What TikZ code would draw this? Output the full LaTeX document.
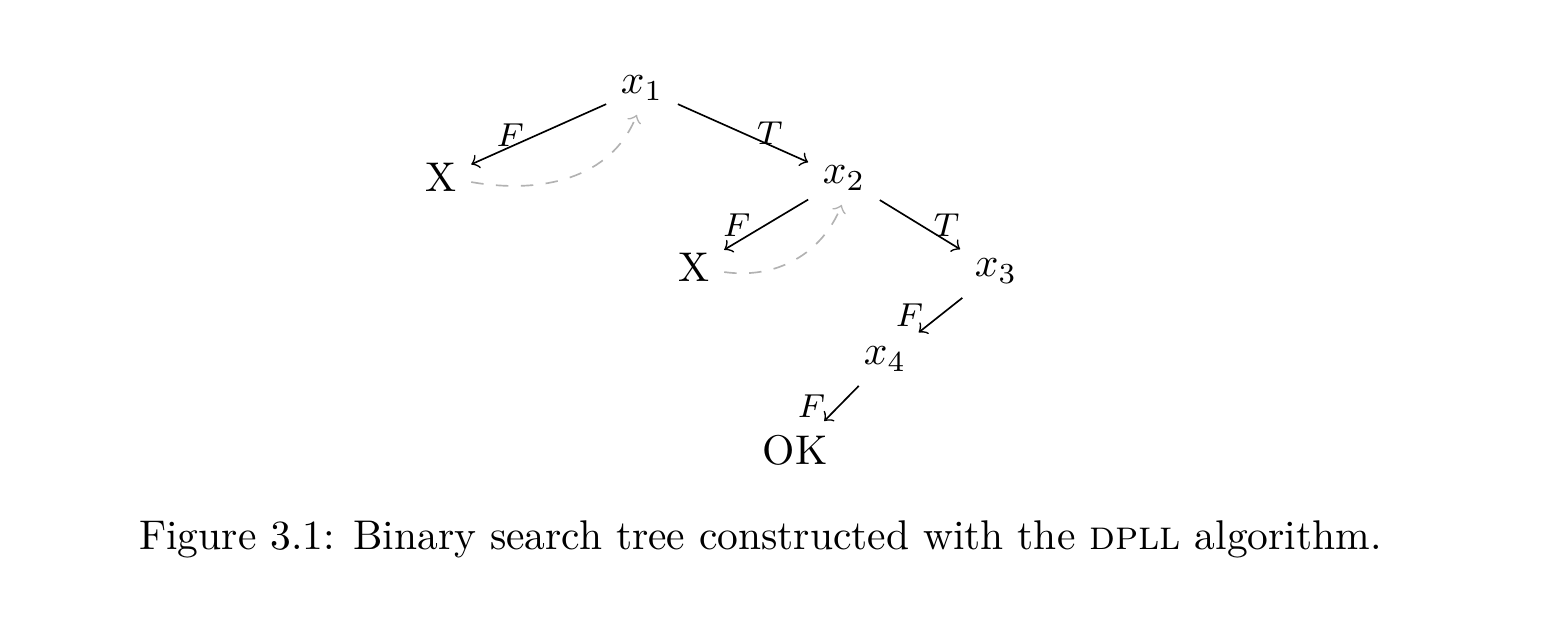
\documentclass[tikz,border=0pt]{standalone}
\begin{document}
\begin{tikzpicture}[x=0.2409pt,y=-0.2409pt,
  lab/.style={font=\footnotesize, inner sep=0pt},
  tree/.style={->, >=to, line width=0.4pt},
  back/.style={->, >=to, dashed, gray!60}]
\useasboundingbox (0,0) rectangle (1542,618);
\node[anchor=base] (x1) at (642,94) {$x_1$};
\node[anchor=base] (xl) at (441,192) {X};
\node[anchor=base] (x2) at (844,184) {$x_2$};
\node[anchor=base] (xm) at (694,282) {X};
\node[anchor=base] (x3) at (996,277) {$x_3$};
\node[anchor=base] (x4) at (885,365) {$x_4$};
\node[anchor=base] (ok) at (795,465) {OK};
\node[anchor=base] (cap) at (760.5,550) {Figure 3.1: Binary search tree constructed with the \textsc{dpll} algorithm.};
\draw[tree] (x1) -- node[lab, pos=0.71, shift={(0,-11.7)}] {$F$} (xl);
\draw[tree] (x1) -- node[lab, pos=0.705, shift={(0,-12)}] {$T$} (x2);
\draw[tree] (x2) -- node[lab, pos=0.85, shift={(0,-17)}] {$F$} (xm);
\draw[tree] (x2) -- node[lab, pos=0.83, shift={(0,-15.6)}] {$T$} (x3);
\draw[tree] (x3) -- node[lab, pos=0.5, shift={(-31,0)}] {$F$} (x4);
\draw[tree] (x4) -- node[lab, pos=0.5, shift={(-30,3)}] {$F$} (ok);
\draw[back] (xl.-8) to[out=-10, in=-112] (x1.-101);
\draw[back] (xm.-8) to[out=-8, in=-112] (x2.-95);
\end{tikzpicture}
\end{document}
